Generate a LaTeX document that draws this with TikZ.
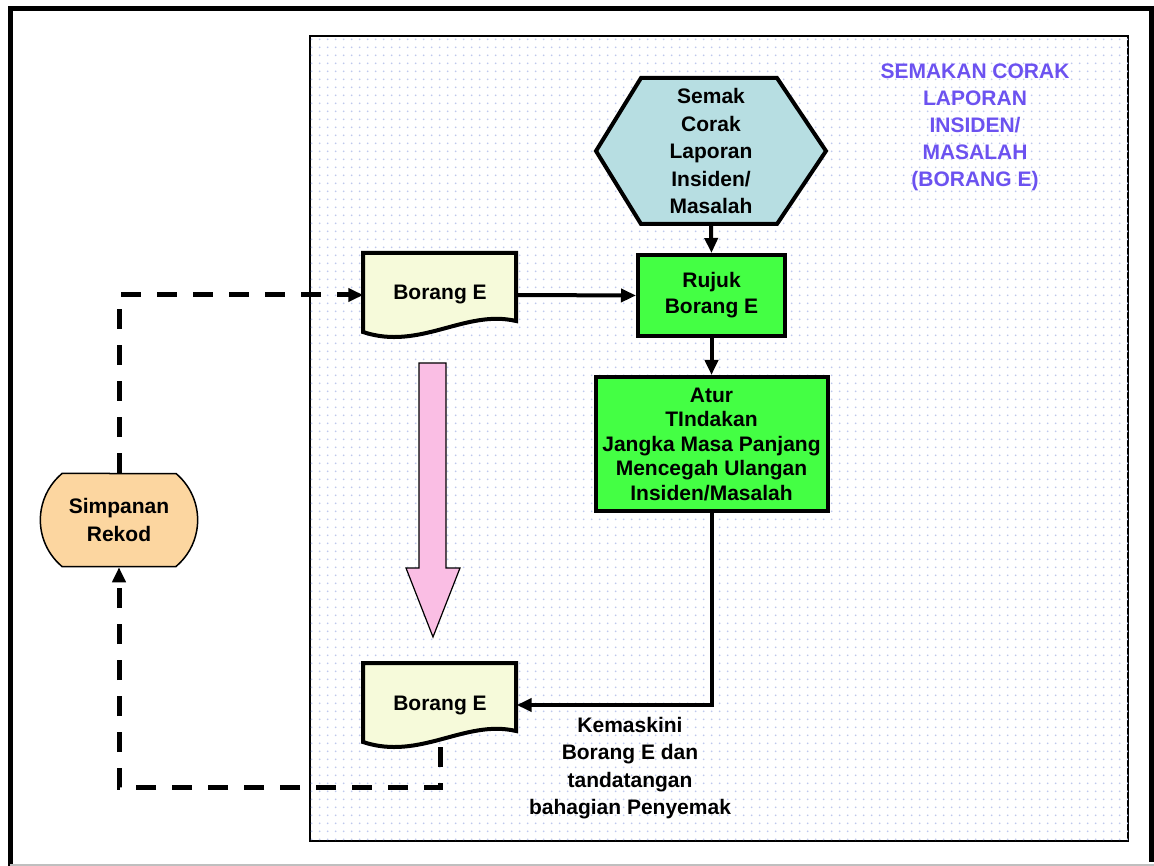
\documentclass[tikz,border=0pt]{standalone}
\usepackage{fontspec}
\setmainfont{Liberation Sans}
\usepackage{xcolor}
\usepackage{tikz}
\usetikzlibrary{arrows.meta}
\usetikzlibrary{positioning, shapes.misc, patterns.meta}

\definecolor{hexcyan}{RGB}{183,222,226}
\definecolor{boxgreen}{RGB}{68,255,68}
\definecolor{docyellow}{RGB}{246,250,218}
\definecolor{pinkarrow}{RGB}{250,190,228}
\definecolor{peach}{RGB}{252,214,160}
\definecolor{titlepurple}{RGB}{108,82,240}
\definecolor{dotblue}{RGB}{190,200,238}

\tikzdeclarepattern{
	name=paneldots,
	type=uncolored,
	bounding box={(0pt,0pt) and (7.7pt,7.7pt)},
	tile size={(7.7pt,7.7pt)},
	code={\fill (3.85pt,3.85pt) circle [radius=1pt];}
}

\tikzset{
	docline/.style={draw, line width=4pt, fill=docyellow},
	hexline/.style={draw, line width=4pt, fill=hexcyan},
	docpic/.pic={
		\path[docline] (-77,-42) -- (76,-42) -- (76,26) .. controls (25,14) and (-20,56) .. (-77,37) -- cycle;
		\node[minimum width=153pt, minimum height=84pt, inner sep=0pt] (-box) {#1};
	},
	hexpic/.pic={
		\path[hexline] (-115,0) -- (-70,-73) -- (66,-73) -- (115,0) -- (66,73) -- (-70,73) -- cycle;
		\node[minimum width=230pt, minimum height=150pt, inner sep=0pt, font=\fontsize{21}{27.5}\selectfont\bfseries] (-box) {#1};
	}
}

\begin{document}
\begin{tikzpicture} [
	x=1pt, y=-1pt, % one unit is one pixel of the reference
	>={Triangle[length=15pt, width=13pt]}, % arrow heads
	flow/.style={->, line width=4pt}, % solid connectors
	dashflow/.style={->, line width=5pt, dash pattern=on 20pt off 16pt}, % record connectors
	every node/.style={font=\fontsize{21}{26}\selectfont\bfseries, align=center},
	stepbox/.style={draw, line width=4pt, fill=boxgreen, inner sep=0pt},
	storebox/.style={rounded rectangle, rounded rectangle arc length=100, draw, line width=1.5pt, fill=peach},
	]
	\useasboundingbox (0,0) rectangle (1154,866);

	% frame and dotted panel
	\draw[line width=5pt] (10.5,866) -- (10.5,8.5) -- (1151.5,8.5) -- (1151.5,862);
	\draw[gray!50, line width=1.5pt] (10,865) -- (1154,865);
	\draw[line width=1.5pt, fill=white, postaction={pattern=paneldots, pattern color=dotblue}] (310,36) rectangle (1128,841);

	\node[text=titlepurple, font=\fontsize{21}{27}\selectfont\bfseries] (title) at (975,127) {SEMAKAN CORAK\\LAPORAN\\INSIDEN/\\MASALAH\\(BORANG E)};

	\pic (semak) at (711,151) {hexpic={Semak\\Corak\\Laporan\\Insiden/\\Masalah}};
	\node[stepbox, minimum width=147pt, minimum height=81pt] (rujuk) at (711.5,295.5) {Rujuk\\Borang E};
	\node[stepbox, minimum width=232pt, minimum height=134pt, font=\fontsize{21}{24.5}\selectfont\bfseries, below=37pt of rujuk] (atur) {Atur\\TIndakan\\Jangka Masa Panjang\\Mencegah Ulangan\\Insiden/Masalah};

	\pic (doca) at (440,295) {docpic=Borang E};
	\pic (docb) at (440,705) {docpic=Borang E};

	\node[storebox, minimum width=164pt, minimum height=93pt, font=\fontsize{21}{28}\selectfont\bfseries] (simpan) at (119,520) {Simpanan\\Rekod};

	\node[font=\fontsize{21}{27.3}\selectfont\bfseries] (kemaskini) at (630,768) {Kemaskini\\Borang E dan\\tandatangan\\bahagian Penyemak};

	% pink block arrow between the two forms
	\draw[line width=1.2pt, fill=pinkarrow] (419,363) -- (446,363) -- (446,568) -- (460,568) -- (433,637) -- (406,568) -- (419,568) -- cycle;

	\draw[flow] (semak-box.south) -- (rujuk.north);
	\draw[flow] (doca-box.east) -- (rujuk.west);
	\draw[flow] (rujuk.south) -- (atur.north);
	\draw[flow] (atur.south) |- (docb-box.east);
	\draw[dashflow] (simpan.north) |- (doca-box.west);
	\draw[dashflow] (docb-box.south) -- ++(0,40) -| (simpan.south);
\end{tikzpicture}
\end{document}
